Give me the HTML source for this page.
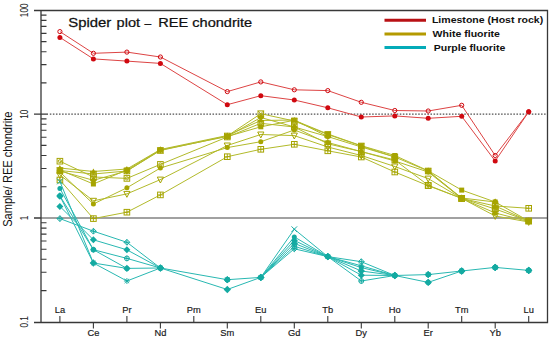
<!DOCTYPE html>
<html><head><meta charset="utf-8"><style>
html,body{margin:0;padding:0;background:#fff;}
body{width:550px;height:342px;overflow:hidden;}
svg{display:block;font-family:"Liberation Sans",sans-serif;}
</style></head><body>
<svg width="550" height="342" viewBox="0 0 550 342">
<rect width="550" height="342" fill="#fff"/>
<line x1="49.8" y1="114.1" x2="547" y2="114.1" stroke="#505050" stroke-width="1.4" stroke-dasharray="1.55 1.52"/>
<line x1="41" y1="218" x2="547" y2="218" stroke="#828282" stroke-width="1.6"/>
<g stroke="#b2ba2a" stroke-width="1" stroke-linecap="round"><line x1="59.9" y1="161.2" x2="93.4" y2="177.0"/><line x1="93.4" y1="177.0" x2="126.9" y2="178.4"/><line x1="126.9" y1="178.4" x2="160.4" y2="164.4"/><line x1="160.4" y1="164.4" x2="227.3" y2="137.0"/><line x1="227.3" y1="137.0" x2="260.8" y2="123.3"/><line x1="260.8" y1="123.3" x2="294.3" y2="127.0"/><line x1="294.3" y1="127.0" x2="327.8" y2="143.8"/><line x1="327.8" y1="143.8" x2="361.3" y2="151.6"/><line x1="361.3" y1="151.6" x2="394.8" y2="160.0"/><line x1="394.8" y1="160.0" x2="428.2" y2="185.3"/><line x1="428.2" y1="185.3" x2="461.7" y2="198.4"/><line x1="461.7" y1="198.4" x2="495.2" y2="209.0"/><line x1="495.2" y1="209.0" x2="528.7" y2="221.0"/><line x1="59.9" y1="170.0" x2="93.4" y2="184.0"/><line x1="93.4" y1="184.0" x2="126.9" y2="170.0"/><line x1="126.9" y1="170.0" x2="160.4" y2="150.0"/><line x1="160.4" y1="150.0" x2="227.3" y2="136.5"/><line x1="227.3" y1="136.5" x2="260.8" y2="126.8"/><line x1="260.8" y1="126.8" x2="294.3" y2="120.3"/><line x1="294.3" y1="120.3" x2="327.8" y2="134.0"/><line x1="327.8" y1="134.0" x2="361.3" y2="145.7"/><line x1="361.3" y1="145.7" x2="394.8" y2="155.5"/><line x1="394.8" y1="155.5" x2="428.2" y2="170.8"/><line x1="428.2" y1="170.8" x2="461.7" y2="190.1"/><line x1="461.7" y1="190.1" x2="495.2" y2="202.0"/><line x1="495.2" y1="202.0" x2="528.7" y2="221.0"/><line x1="59.9" y1="168.0" x2="93.4" y2="171.5"/><line x1="93.4" y1="171.5" x2="126.9" y2="169.0"/><line x1="126.9" y1="169.0" x2="160.4" y2="149.5"/><line x1="160.4" y1="149.5" x2="227.3" y2="135.5"/><line x1="227.3" y1="135.5" x2="260.8" y2="120.5"/><line x1="260.8" y1="120.5" x2="294.3" y2="120.0"/><line x1="294.3" y1="120.0" x2="327.8" y2="136.6"/><line x1="327.8" y1="136.6" x2="361.3" y2="147.0"/><line x1="361.3" y1="147.0" x2="394.8" y2="157.0"/><line x1="394.8" y1="157.0" x2="428.2" y2="171.0"/><line x1="428.2" y1="171.0" x2="461.7" y2="198.4"/><line x1="461.7" y1="198.4" x2="495.2" y2="206.0"/><line x1="495.2" y1="206.0" x2="528.7" y2="221.0"/><line x1="59.9" y1="172.0" x2="93.4" y2="204.0"/><line x1="93.4" y1="204.0" x2="126.9" y2="187.8"/><line x1="126.9" y1="187.8" x2="160.4" y2="168.0"/><line x1="160.4" y1="168.0" x2="227.3" y2="147.6"/><line x1="227.3" y1="147.6" x2="260.8" y2="141.7"/><line x1="260.8" y1="141.7" x2="294.3" y2="130.0"/><line x1="294.3" y1="130.0" x2="327.8" y2="142.5"/><line x1="327.8" y1="142.5" x2="361.3" y2="151.6"/><line x1="361.3" y1="151.6" x2="394.8" y2="161.0"/><line x1="394.8" y1="161.0" x2="428.2" y2="172.0"/><line x1="428.2" y1="172.0" x2="461.7" y2="198.4"/><line x1="461.7" y1="198.4" x2="495.2" y2="213.0"/><line x1="495.2" y1="213.0" x2="528.7" y2="221.5"/><line x1="59.9" y1="175.0" x2="93.4" y2="200.8"/><line x1="93.4" y1="200.8" x2="126.9" y2="193.9"/><line x1="126.9" y1="193.9" x2="160.4" y2="179.6"/><line x1="160.4" y1="179.6" x2="227.3" y2="145.5"/><line x1="227.3" y1="145.5" x2="260.8" y2="134.5"/><line x1="260.8" y1="134.5" x2="294.3" y2="135.6"/><line x1="294.3" y1="135.6" x2="327.8" y2="147.0"/><line x1="327.8" y1="147.0" x2="361.3" y2="155.5"/><line x1="361.3" y1="155.5" x2="394.8" y2="166.5"/><line x1="394.8" y1="166.5" x2="428.2" y2="178.6"/><line x1="428.2" y1="178.6" x2="461.7" y2="198.4"/><line x1="461.7" y1="198.4" x2="495.2" y2="216.0"/><line x1="495.2" y1="216.0" x2="528.7" y2="222.0"/><line x1="59.9" y1="180.0" x2="93.4" y2="218.6"/><line x1="93.4" y1="218.6" x2="126.9" y2="212.2"/><line x1="126.9" y1="212.2" x2="160.4" y2="194.9"/><line x1="160.4" y1="194.9" x2="227.3" y2="156.7"/><line x1="227.3" y1="156.7" x2="260.8" y2="149.3"/><line x1="260.8" y1="149.3" x2="294.3" y2="144.3"/><line x1="294.3" y1="144.3" x2="327.8" y2="150.8"/><line x1="327.8" y1="150.8" x2="361.3" y2="157.0"/><line x1="361.3" y1="157.0" x2="394.8" y2="172.0"/><line x1="394.8" y1="172.0" x2="428.2" y2="185.7"/><line x1="428.2" y1="185.7" x2="461.7" y2="198.4"/><line x1="495.2" y1="206.0" x2="528.7" y2="208.3"/><line x1="59.9" y1="170.5" x2="93.4" y2="174.0"/><line x1="93.4" y1="174.0" x2="126.9" y2="171.0"/><line x1="126.9" y1="171.0" x2="160.4" y2="150.5"/><line x1="160.4" y1="150.5" x2="227.3" y2="136.0"/><line x1="227.3" y1="136.0" x2="260.8" y2="113.7"/><line x1="260.8" y1="113.7" x2="294.3" y2="121.0"/><line x1="294.3" y1="121.0" x2="327.8" y2="134.5"/><line x1="327.8" y1="134.5" x2="361.3" y2="146.0"/><line x1="361.3" y1="146.0" x2="394.8" y2="157.0"/><line x1="59.9" y1="171.0" x2="93.4" y2="180.3"/><line x1="93.4" y1="180.3" x2="126.9" y2="171.0"/><line x1="126.9" y1="171.0" x2="160.4" y2="150.0"/><line x1="227.3" y1="136.5" x2="260.8" y2="117.5"/><line x1="260.8" y1="117.5" x2="294.3" y2="127.0"/><line x1="294.3" y1="127.0" x2="327.8" y2="136.6"/><line x1="428.2" y1="171.0" x2="461.7" y2="198.0"/><line x1="461.7" y1="198.0" x2="495.2" y2="202.0"/></g>
<rect x="57.1" y="158.4" width="5.6" height="5.6" fill="none" stroke="#a6a400" stroke-width="1"/><circle cx="59.9" cy="161.2" r="1.6" fill="none" stroke="#a6a400" stroke-width="0.9"/><rect x="90.6" y="174.2" width="5.6" height="5.6" fill="none" stroke="#a6a400" stroke-width="1"/><circle cx="93.4" cy="177.0" r="1.6" fill="none" stroke="#a6a400" stroke-width="0.9"/><rect x="124.1" y="175.6" width="5.6" height="5.6" fill="none" stroke="#a6a400" stroke-width="1"/><circle cx="126.9" cy="178.4" r="1.6" fill="none" stroke="#a6a400" stroke-width="0.9"/><rect x="157.6" y="161.6" width="5.6" height="5.6" fill="none" stroke="#a6a400" stroke-width="1"/><circle cx="160.4" cy="164.4" r="1.6" fill="none" stroke="#a6a400" stroke-width="0.9"/><rect x="224.5" y="134.2" width="5.6" height="5.6" fill="none" stroke="#a6a400" stroke-width="1"/><circle cx="227.3" cy="137.0" r="1.6" fill="none" stroke="#a6a400" stroke-width="0.9"/><rect x="258.0" y="120.5" width="5.6" height="5.6" fill="none" stroke="#a6a400" stroke-width="1"/><circle cx="260.8" cy="123.3" r="1.6" fill="none" stroke="#a6a400" stroke-width="0.9"/><rect x="291.5" y="124.2" width="5.6" height="5.6" fill="none" stroke="#a6a400" stroke-width="1"/><circle cx="294.3" cy="127.0" r="1.6" fill="none" stroke="#a6a400" stroke-width="0.9"/><rect x="325.0" y="141.0" width="5.6" height="5.6" fill="none" stroke="#a6a400" stroke-width="1"/><circle cx="327.8" cy="143.8" r="1.6" fill="none" stroke="#a6a400" stroke-width="0.9"/><rect x="358.5" y="148.8" width="5.6" height="5.6" fill="none" stroke="#a6a400" stroke-width="1"/><circle cx="361.3" cy="151.6" r="1.6" fill="none" stroke="#a6a400" stroke-width="0.9"/><rect x="392.0" y="157.2" width="5.6" height="5.6" fill="none" stroke="#a6a400" stroke-width="1"/><circle cx="394.8" cy="160.0" r="1.6" fill="none" stroke="#a6a400" stroke-width="0.9"/><rect x="425.4" y="182.5" width="5.6" height="5.6" fill="none" stroke="#a6a400" stroke-width="1"/><circle cx="428.2" cy="185.3" r="1.6" fill="none" stroke="#a6a400" stroke-width="0.9"/><rect x="458.9" y="195.6" width="5.6" height="5.6" fill="none" stroke="#a6a400" stroke-width="1"/><circle cx="461.7" cy="198.4" r="1.6" fill="none" stroke="#a6a400" stroke-width="0.9"/><rect x="492.4" y="206.2" width="5.6" height="5.6" fill="none" stroke="#a6a400" stroke-width="1"/><circle cx="495.2" cy="209.0" r="1.6" fill="none" stroke="#a6a400" stroke-width="0.9"/><rect x="525.9" y="218.2" width="5.6" height="5.6" fill="none" stroke="#a6a400" stroke-width="1"/><circle cx="528.7" cy="221.0" r="1.6" fill="none" stroke="#a6a400" stroke-width="0.9"/>
<rect x="57.4" y="167.5" width="5.0" height="5.0" fill="#a6a400"/><rect x="90.9" y="181.5" width="5.0" height="5.0" fill="#a6a400"/><rect x="124.4" y="167.5" width="5.0" height="5.0" fill="#a6a400"/><rect x="157.9" y="147.5" width="5.0" height="5.0" fill="#a6a400"/><rect x="224.8" y="134.0" width="5.0" height="5.0" fill="#a6a400"/><rect x="258.3" y="124.3" width="5.0" height="5.0" fill="#a6a400"/><rect x="291.8" y="117.8" width="5.0" height="5.0" fill="#a6a400"/><rect x="325.3" y="131.5" width="5.0" height="5.0" fill="#a6a400"/><rect x="358.8" y="143.2" width="5.0" height="5.0" fill="#a6a400"/><rect x="392.3" y="153.0" width="5.0" height="5.0" fill="#a6a400"/><rect x="425.7" y="168.3" width="5.0" height="5.0" fill="#a6a400"/><rect x="459.2" y="187.6" width="5.0" height="5.0" fill="#a6a400"/><rect x="492.7" y="199.5" width="5.0" height="5.0" fill="#a6a400"/><rect x="526.2" y="218.5" width="5.0" height="5.0" fill="#a6a400"/>
<path d="M59.9 165.1L62.7 169.9L57.1 169.9Z" fill="#a6a400"/><path d="M93.4 168.6L96.2 173.4L90.6 173.4Z" fill="#a6a400"/><path d="M126.9 166.1L129.7 170.9L124.1 170.9Z" fill="#a6a400"/><path d="M160.4 146.6L163.2 151.4L157.6 151.4Z" fill="#a6a400"/><path d="M227.3 132.6L230.1 137.4L224.5 137.4Z" fill="#a6a400"/><path d="M260.8 117.6L263.6 122.4L258.0 122.4Z" fill="#a6a400"/><path d="M294.3 117.1L297.1 121.9L291.5 121.9Z" fill="#a6a400"/><path d="M327.8 133.7L330.6 138.5L325.0 138.5Z" fill="#a6a400"/><path d="M361.3 144.1L364.1 148.9L358.5 148.9Z" fill="#a6a400"/><path d="M394.8 154.1L397.6 158.9L392.0 158.9Z" fill="#a6a400"/><path d="M428.2 168.1L431.0 172.9L425.4 172.9Z" fill="#a6a400"/><path d="M461.7 195.5L464.5 200.3L458.9 200.3Z" fill="#a6a400"/><path d="M495.2 203.1L498.0 207.9L492.4 207.9Z" fill="#a6a400"/><path d="M528.7 218.1L531.5 222.9L525.9 222.9Z" fill="#a6a400"/>
<circle cx="59.9" cy="172.0" r="2.5" fill="#a6a400"/><circle cx="93.4" cy="204.0" r="2.5" fill="#a6a400"/><circle cx="126.9" cy="187.8" r="2.5" fill="#a6a400"/><circle cx="160.4" cy="168.0" r="2.5" fill="#a6a400"/><circle cx="227.3" cy="147.6" r="2.5" fill="#a6a400"/><circle cx="260.8" cy="141.7" r="2.5" fill="#a6a400"/><circle cx="294.3" cy="130.0" r="2.5" fill="#a6a400"/><circle cx="327.8" cy="142.5" r="2.5" fill="#a6a400"/><circle cx="361.3" cy="151.6" r="2.5" fill="#a6a400"/><circle cx="394.8" cy="161.0" r="2.5" fill="#a6a400"/><circle cx="428.2" cy="172.0" r="2.5" fill="#a6a400"/><circle cx="461.7" cy="198.4" r="2.5" fill="#a6a400"/><circle cx="495.2" cy="213.0" r="2.5" fill="#a6a400"/><circle cx="528.7" cy="221.5" r="2.5" fill="#a6a400"/>
<path d="M56.8 172.5L63.0 172.5L59.9 178.4Z" fill="none" stroke="#a6a400" stroke-width="1"/><path d="M90.3 198.3L96.5 198.3L93.4 204.2Z" fill="none" stroke="#a6a400" stroke-width="1"/><path d="M123.8 191.4L130.0 191.4L126.9 197.3Z" fill="none" stroke="#a6a400" stroke-width="1"/><path d="M157.3 177.1L163.5 177.1L160.4 183.0Z" fill="none" stroke="#a6a400" stroke-width="1"/><path d="M224.2 143.0L230.4 143.0L227.3 148.9Z" fill="none" stroke="#a6a400" stroke-width="1"/><path d="M257.7 132.0L263.9 132.0L260.8 137.9Z" fill="none" stroke="#a6a400" stroke-width="1"/><path d="M291.2 133.1L297.4 133.1L294.3 139.0Z" fill="none" stroke="#a6a400" stroke-width="1"/><path d="M324.7 144.5L330.9 144.5L327.8 150.4Z" fill="none" stroke="#a6a400" stroke-width="1"/><path d="M358.2 153.0L364.4 153.0L361.3 158.9Z" fill="none" stroke="#a6a400" stroke-width="1"/><path d="M391.7 164.0L397.9 164.0L394.8 169.9Z" fill="none" stroke="#a6a400" stroke-width="1"/><path d="M425.1 176.1L431.3 176.1L428.2 182.0Z" fill="none" stroke="#a6a400" stroke-width="1"/><path d="M458.6 195.9L464.8 195.9L461.7 201.8Z" fill="none" stroke="#a6a400" stroke-width="1"/><path d="M492.1 213.5L498.3 213.5L495.2 219.4Z" fill="none" stroke="#a6a400" stroke-width="1"/><path d="M525.6 219.5L531.8 219.5L528.7 225.4Z" fill="none" stroke="#a6a400" stroke-width="1"/>
<rect x="57.1" y="177.2" width="5.6" height="5.6" fill="none" stroke="#a6a400" stroke-width="1"/><path d="M57.1 180.0H62.7M59.9 177.2V182.8" stroke="#a6a400" stroke-width="0.9"/><rect x="90.6" y="215.8" width="5.6" height="5.6" fill="none" stroke="#a6a400" stroke-width="1"/><path d="M90.6 218.6H96.2M93.4 215.8V221.4" stroke="#a6a400" stroke-width="0.9"/><rect x="124.1" y="209.4" width="5.6" height="5.6" fill="none" stroke="#a6a400" stroke-width="1"/><path d="M124.1 212.2H129.7M126.9 209.4V215.0" stroke="#a6a400" stroke-width="0.9"/><rect x="157.6" y="192.1" width="5.6" height="5.6" fill="none" stroke="#a6a400" stroke-width="1"/><path d="M157.6 194.9H163.2M160.4 192.1V197.7" stroke="#a6a400" stroke-width="0.9"/><rect x="224.5" y="153.9" width="5.6" height="5.6" fill="none" stroke="#a6a400" stroke-width="1"/><path d="M224.5 156.7H230.1M227.3 153.9V159.5" stroke="#a6a400" stroke-width="0.9"/><rect x="258.0" y="146.5" width="5.6" height="5.6" fill="none" stroke="#a6a400" stroke-width="1"/><path d="M258.0 149.3H263.6M260.8 146.5V152.1" stroke="#a6a400" stroke-width="0.9"/><rect x="291.5" y="141.5" width="5.6" height="5.6" fill="none" stroke="#a6a400" stroke-width="1"/><path d="M291.5 144.3H297.1M294.3 141.5V147.1" stroke="#a6a400" stroke-width="0.9"/><rect x="325.0" y="148.0" width="5.6" height="5.6" fill="none" stroke="#a6a400" stroke-width="1"/><path d="M325.0 150.8H330.6M327.8 148.0V153.6" stroke="#a6a400" stroke-width="0.9"/><rect x="358.5" y="154.2" width="5.6" height="5.6" fill="none" stroke="#a6a400" stroke-width="1"/><path d="M358.5 157.0H364.1M361.3 154.2V159.8" stroke="#a6a400" stroke-width="0.9"/><rect x="392.0" y="169.2" width="5.6" height="5.6" fill="none" stroke="#a6a400" stroke-width="1"/><path d="M392.0 172.0H397.6M394.8 169.2V174.8" stroke="#a6a400" stroke-width="0.9"/><rect x="425.4" y="182.9" width="5.6" height="5.6" fill="none" stroke="#a6a400" stroke-width="1"/><path d="M425.4 185.7H431.0M428.2 182.9V188.5" stroke="#a6a400" stroke-width="0.9"/><rect x="458.9" y="195.6" width="5.6" height="5.6" fill="none" stroke="#a6a400" stroke-width="1"/><path d="M458.9 198.4H464.5M461.7 195.6V201.2" stroke="#a6a400" stroke-width="0.9"/><rect x="492.4" y="203.2" width="5.6" height="5.6" fill="none" stroke="#a6a400" stroke-width="1"/><path d="M492.4 206.0H498.0M495.2 203.2V208.8" stroke="#a6a400" stroke-width="0.9"/><rect x="525.9" y="205.5" width="5.6" height="5.6" fill="none" stroke="#a6a400" stroke-width="1"/><path d="M525.9 208.3H531.5M528.7 205.5V211.1" stroke="#a6a400" stroke-width="0.9"/>
<rect x="57.1" y="167.7" width="5.6" height="5.6" fill="none" stroke="#a6a400" stroke-width="1"/><path d="M57.1 167.7L62.7 173.3M57.1 173.3L62.7 167.7" stroke="#a6a400" stroke-width="0.9"/><rect x="90.6" y="171.2" width="5.6" height="5.6" fill="none" stroke="#a6a400" stroke-width="1"/><path d="M90.6 171.2L96.2 176.8M90.6 176.8L96.2 171.2" stroke="#a6a400" stroke-width="0.9"/><rect x="124.1" y="168.2" width="5.6" height="5.6" fill="none" stroke="#a6a400" stroke-width="1"/><path d="M124.1 168.2L129.7 173.8M124.1 173.8L129.7 168.2" stroke="#a6a400" stroke-width="0.9"/><rect x="157.6" y="147.7" width="5.6" height="5.6" fill="none" stroke="#a6a400" stroke-width="1"/><path d="M157.6 147.7L163.2 153.3M157.6 153.3L163.2 147.7" stroke="#a6a400" stroke-width="0.9"/><rect x="224.5" y="133.2" width="5.6" height="5.6" fill="none" stroke="#a6a400" stroke-width="1"/><path d="M224.5 133.2L230.1 138.8M224.5 138.8L230.1 133.2" stroke="#a6a400" stroke-width="0.9"/><rect x="258.0" y="110.9" width="5.6" height="5.6" fill="none" stroke="#a6a400" stroke-width="1"/><path d="M258.0 110.9L263.6 116.5M258.0 116.5L263.6 110.9" stroke="#a6a400" stroke-width="0.9"/><rect x="291.5" y="118.2" width="5.6" height="5.6" fill="none" stroke="#a6a400" stroke-width="1"/><path d="M291.5 118.2L297.1 123.8M291.5 123.8L297.1 118.2" stroke="#a6a400" stroke-width="0.9"/><rect x="325.0" y="131.7" width="5.6" height="5.6" fill="none" stroke="#a6a400" stroke-width="1"/><path d="M325.0 131.7L330.6 137.3M325.0 137.3L330.6 131.7" stroke="#a6a400" stroke-width="0.9"/><rect x="358.5" y="143.2" width="5.6" height="5.6" fill="none" stroke="#a6a400" stroke-width="1"/><path d="M358.5 143.2L364.1 148.8M358.5 148.8L364.1 143.2" stroke="#a6a400" stroke-width="0.9"/><rect x="392.0" y="154.2" width="5.6" height="5.6" fill="none" stroke="#a6a400" stroke-width="1"/><path d="M392.0 154.2L397.6 159.8M392.0 159.8L397.6 154.2" stroke="#a6a400" stroke-width="0.9"/><rect x="425.4" y="168.2" width="5.6" height="5.6" fill="none" stroke="#a6a400" stroke-width="1"/><path d="M425.4 168.2L431.0 173.8M425.4 173.8L431.0 168.2" stroke="#a6a400" stroke-width="0.9"/><rect x="458.9" y="195.6" width="5.6" height="5.6" fill="none" stroke="#a6a400" stroke-width="1"/><path d="M458.9 195.6L464.5 201.2M458.9 201.2L464.5 195.6" stroke="#a6a400" stroke-width="0.9"/><rect x="492.4" y="206.2" width="5.6" height="5.6" fill="none" stroke="#a6a400" stroke-width="1"/><path d="M492.4 206.2L498.0 211.8M492.4 211.8L498.0 206.2" stroke="#a6a400" stroke-width="0.9"/><rect x="525.9" y="218.2" width="5.6" height="5.6" fill="none" stroke="#a6a400" stroke-width="1"/><path d="M525.9 218.2L531.5 223.8M525.9 223.8L531.5 218.2" stroke="#a6a400" stroke-width="0.9"/>
<path d="M59.9 167.5L63.4 171.0L59.9 174.5L56.4 171.0Z" fill="#a6a400"/><path d="M93.4 176.8L96.9 180.3L93.4 183.8L89.9 180.3Z" fill="#a6a400"/><path d="M126.9 167.5L130.4 171.0L126.9 174.5L123.4 171.0Z" fill="#a6a400"/><path d="M160.4 146.5L163.9 150.0L160.4 153.5L156.9 150.0Z" fill="#a6a400"/><path d="M227.3 133.0L230.8 136.5L227.3 140.0L223.8 136.5Z" fill="#a6a400"/><path d="M260.8 114.0L264.3 117.5L260.8 121.0L257.3 117.5Z" fill="#a6a400"/><path d="M294.3 123.5L297.8 127.0L294.3 130.5L290.8 127.0Z" fill="#a6a400"/><path d="M327.8 133.1L331.3 136.6L327.8 140.1L324.3 136.6Z" fill="#a6a400"/><path d="M361.3 143.5L364.8 147.0L361.3 150.5L357.8 147.0Z" fill="#a6a400"/><path d="M394.8 153.5L398.3 157.0L394.8 160.5L391.3 157.0Z" fill="#a6a400"/><path d="M428.2 167.5L431.7 171.0L428.2 174.5L424.7 171.0Z" fill="#a6a400"/><path d="M461.7 194.5L465.2 198.0L461.7 201.5L458.2 198.0Z" fill="#a6a400"/><path d="M495.2 198.5L498.7 202.0L495.2 205.5L491.7 202.0Z" fill="#a6a400"/><path d="M528.7 217.5L532.2 221.0L528.7 224.5L525.2 221.0Z" fill="#a6a400"/>
<g stroke="#28b8b2" stroke-width="1" stroke-linecap="round"><line x1="59.9" y1="218.6" x2="93.4" y2="231.2"/><line x1="93.4" y1="231.2" x2="126.9" y2="242.3"/><line x1="126.9" y1="242.3" x2="160.4" y2="268.0"/><line x1="160.4" y1="268.0" x2="227.3" y2="279.7"/><line x1="227.3" y1="279.7" x2="260.8" y2="277.4"/><line x1="260.8" y1="277.4" x2="294.3" y2="248.8"/><line x1="294.3" y1="248.8" x2="327.8" y2="256.6"/><line x1="327.8" y1="256.6" x2="361.3" y2="261.7"/><line x1="361.3" y1="261.7" x2="394.8" y2="275.5"/><line x1="394.8" y1="275.5" x2="428.2" y2="274.6"/><line x1="428.2" y1="274.6" x2="461.7" y2="271.0"/><line x1="461.7" y1="271.0" x2="495.2" y2="267.4"/><line x1="495.2" y1="267.4" x2="528.7" y2="270.4"/><line x1="59.9" y1="206.4" x2="93.4" y2="239.8"/><line x1="93.4" y1="239.8" x2="126.9" y2="249.8"/><line x1="126.9" y1="249.8" x2="160.4" y2="268.0"/><line x1="260.8" y1="277.4" x2="294.3" y2="240.4"/><line x1="294.3" y1="240.4" x2="327.8" y2="256.6"/><line x1="327.8" y1="256.6" x2="361.3" y2="275.2"/><line x1="361.3" y1="275.2" x2="394.8" y2="275.5"/><line x1="59.9" y1="196.0" x2="93.4" y2="249.7"/><line x1="93.4" y1="249.7" x2="126.9" y2="258.4"/><line x1="126.9" y1="258.4" x2="160.4" y2="268.0"/><line x1="260.8" y1="277.4" x2="294.3" y2="246.3"/><line x1="294.3" y1="246.3" x2="327.8" y2="256.6"/><line x1="327.8" y1="256.6" x2="361.3" y2="281.0"/><line x1="361.3" y1="281.0" x2="394.8" y2="275.5"/><line x1="394.8" y1="275.5" x2="428.2" y2="282.4"/><line x1="428.2" y1="282.4" x2="461.7" y2="271.0"/><line x1="59.9" y1="196.0" x2="93.4" y2="263.0"/><line x1="93.4" y1="263.0" x2="126.9" y2="268.4"/><line x1="126.9" y1="268.4" x2="160.4" y2="268.0"/><line x1="160.4" y1="268.0" x2="227.3" y2="289.5"/><line x1="227.3" y1="289.5" x2="260.8" y2="277.4"/><line x1="260.8" y1="277.4" x2="294.3" y2="243.4"/><line x1="294.3" y1="243.4" x2="327.8" y2="256.6"/><line x1="327.8" y1="256.6" x2="361.3" y2="271.0"/><line x1="361.3" y1="271.0" x2="394.8" y2="275.5"/><line x1="59.9" y1="188.4" x2="93.4" y2="249.7"/><line x1="93.4" y1="249.7" x2="126.9" y2="268.4"/><line x1="260.8" y1="277.4" x2="294.3" y2="236.9"/><line x1="294.3" y1="236.9" x2="327.8" y2="256.6"/><line x1="327.8" y1="256.6" x2="361.3" y2="267.6"/><line x1="361.3" y1="267.6" x2="394.8" y2="275.5"/><line x1="59.9" y1="181.5" x2="93.4" y2="263.0"/><line x1="93.4" y1="263.0" x2="126.9" y2="281.0"/><line x1="126.9" y1="281.0" x2="160.4" y2="268.0"/><line x1="260.8" y1="277.4" x2="294.3" y2="229.2"/><line x1="294.3" y1="229.2" x2="327.8" y2="256.6"/><line x1="327.8" y1="256.6" x2="361.3" y2="265.8"/><line x1="361.3" y1="265.8" x2="394.8" y2="275.5"/></g>
<path d="M59.9 215.7L62.8 218.6L59.9 221.5L57.0 218.6Z" fill="none" stroke="#14aaa2" stroke-width="1"/><path d="M57.0 218.6H62.8M59.9 215.7V221.5" stroke="#14aaa2" stroke-width="0.9"/><path d="M93.4 228.3L96.3 231.2L93.4 234.1L90.5 231.2Z" fill="none" stroke="#14aaa2" stroke-width="1"/><path d="M90.5 231.2H96.3M93.4 228.3V234.1" stroke="#14aaa2" stroke-width="0.9"/><path d="M126.9 239.4L129.8 242.3L126.9 245.2L124.0 242.3Z" fill="none" stroke="#14aaa2" stroke-width="1"/><path d="M124.0 242.3H129.8M126.9 239.4V245.2" stroke="#14aaa2" stroke-width="0.9"/><path d="M160.4 265.1L163.3 268.0L160.4 270.9L157.5 268.0Z" fill="none" stroke="#14aaa2" stroke-width="1"/><path d="M157.5 268.0H163.3M160.4 265.1V270.9" stroke="#14aaa2" stroke-width="0.9"/><path d="M227.3 276.8L230.2 279.7L227.3 282.6L224.4 279.7Z" fill="none" stroke="#14aaa2" stroke-width="1"/><path d="M224.4 279.7H230.2M227.3 276.8V282.6" stroke="#14aaa2" stroke-width="0.9"/><path d="M260.8 274.5L263.7 277.4L260.8 280.3L257.9 277.4Z" fill="none" stroke="#14aaa2" stroke-width="1"/><path d="M257.9 277.4H263.7M260.8 274.5V280.3" stroke="#14aaa2" stroke-width="0.9"/><path d="M294.3 245.9L297.2 248.8L294.3 251.7L291.4 248.8Z" fill="none" stroke="#14aaa2" stroke-width="1"/><path d="M291.4 248.8H297.2M294.3 245.9V251.7" stroke="#14aaa2" stroke-width="0.9"/><path d="M327.8 253.7L330.7 256.6L327.8 259.5L324.9 256.6Z" fill="none" stroke="#14aaa2" stroke-width="1"/><path d="M324.9 256.6H330.7M327.8 253.7V259.5" stroke="#14aaa2" stroke-width="0.9"/><path d="M361.3 258.8L364.2 261.7L361.3 264.6L358.4 261.7Z" fill="none" stroke="#14aaa2" stroke-width="1"/><path d="M358.4 261.7H364.2M361.3 258.8V264.6" stroke="#14aaa2" stroke-width="0.9"/><path d="M394.8 272.6L397.7 275.5L394.8 278.4L391.9 275.5Z" fill="none" stroke="#14aaa2" stroke-width="1"/><path d="M391.9 275.5H397.7M394.8 272.6V278.4" stroke="#14aaa2" stroke-width="0.9"/><path d="M428.2 271.7L431.1 274.6L428.2 277.5L425.3 274.6Z" fill="none" stroke="#14aaa2" stroke-width="1"/><path d="M425.3 274.6H431.1M428.2 271.7V277.5" stroke="#14aaa2" stroke-width="0.9"/><path d="M461.7 268.1L464.6 271.0L461.7 273.9L458.8 271.0Z" fill="none" stroke="#14aaa2" stroke-width="1"/><path d="M458.8 271.0H464.6M461.7 268.1V273.9" stroke="#14aaa2" stroke-width="0.9"/><path d="M495.2 264.5L498.1 267.4L495.2 270.3L492.3 267.4Z" fill="none" stroke="#14aaa2" stroke-width="1"/><path d="M492.3 267.4H498.1M495.2 264.5V270.3" stroke="#14aaa2" stroke-width="0.9"/><path d="M528.7 267.5L531.6 270.4L528.7 273.3L525.8 270.4Z" fill="none" stroke="#14aaa2" stroke-width="1"/><path d="M525.8 270.4H531.6M528.7 267.5V273.3" stroke="#14aaa2" stroke-width="0.9"/>
<path d="M59.9 202.9L63.4 206.4L59.9 209.9L56.4 206.4Z" fill="#14aaa2"/><path d="M93.4 236.3L96.9 239.8L93.4 243.3L89.9 239.8Z" fill="#14aaa2"/><path d="M126.9 246.3L130.4 249.8L126.9 253.3L123.4 249.8Z" fill="#14aaa2"/><path d="M160.4 264.5L163.9 268.0L160.4 271.5L156.9 268.0Z" fill="#14aaa2"/><path d="M227.3 276.2L230.8 279.7L227.3 283.2L223.8 279.7Z" fill="#14aaa2"/><path d="M260.8 273.9L264.3 277.4L260.8 280.9L257.3 277.4Z" fill="#14aaa2"/><path d="M294.3 236.9L297.8 240.4L294.3 243.9L290.8 240.4Z" fill="#14aaa2"/><path d="M327.8 253.1L331.3 256.6L327.8 260.1L324.3 256.6Z" fill="#14aaa2"/><path d="M361.3 271.7L364.8 275.2L361.3 278.7L357.8 275.2Z" fill="#14aaa2"/><path d="M394.8 272.0L398.3 275.5L394.8 279.0L391.3 275.5Z" fill="#14aaa2"/><path d="M428.2 271.1L431.7 274.6L428.2 278.1L424.7 274.6Z" fill="#14aaa2"/><path d="M461.7 267.5L465.2 271.0L461.7 274.5L458.2 271.0Z" fill="#14aaa2"/><path d="M495.2 263.9L498.7 267.4L495.2 270.9L491.7 267.4Z" fill="#14aaa2"/><path d="M528.7 266.9L532.2 270.4L528.7 273.9L525.2 270.4Z" fill="#14aaa2"/>
<circle cx="59.9" cy="196.0" r="2.4" fill="none" stroke="#14aaa2" stroke-width="1"/><path d="M57.1 196.0H62.7M59.9 193.2V198.8" stroke="#14aaa2" stroke-width="0.9"/><circle cx="93.4" cy="249.7" r="2.4" fill="none" stroke="#14aaa2" stroke-width="1"/><path d="M90.6 249.7H96.2M93.4 246.9V252.5" stroke="#14aaa2" stroke-width="0.9"/><circle cx="126.9" cy="258.4" r="2.4" fill="none" stroke="#14aaa2" stroke-width="1"/><path d="M124.1 258.4H129.7M126.9 255.6V261.2" stroke="#14aaa2" stroke-width="0.9"/><circle cx="160.4" cy="268.0" r="2.4" fill="none" stroke="#14aaa2" stroke-width="1"/><path d="M157.6 268.0H163.2M160.4 265.2V270.8" stroke="#14aaa2" stroke-width="0.9"/><circle cx="227.3" cy="279.7" r="2.4" fill="none" stroke="#14aaa2" stroke-width="1"/><path d="M224.5 279.7H230.1M227.3 276.9V282.5" stroke="#14aaa2" stroke-width="0.9"/><circle cx="260.8" cy="277.4" r="2.4" fill="none" stroke="#14aaa2" stroke-width="1"/><path d="M258.0 277.4H263.6M260.8 274.6V280.2" stroke="#14aaa2" stroke-width="0.9"/><circle cx="294.3" cy="246.3" r="2.4" fill="none" stroke="#14aaa2" stroke-width="1"/><path d="M291.5 246.3H297.1M294.3 243.5V249.1" stroke="#14aaa2" stroke-width="0.9"/><circle cx="327.8" cy="256.6" r="2.4" fill="none" stroke="#14aaa2" stroke-width="1"/><path d="M325.0 256.6H330.6M327.8 253.8V259.4" stroke="#14aaa2" stroke-width="0.9"/><circle cx="361.3" cy="281.0" r="2.4" fill="none" stroke="#14aaa2" stroke-width="1"/><path d="M358.5 281.0H364.1M361.3 278.2V283.8" stroke="#14aaa2" stroke-width="0.9"/><circle cx="394.8" cy="275.5" r="2.4" fill="none" stroke="#14aaa2" stroke-width="1"/><path d="M392.0 275.5H397.6M394.8 272.7V278.3" stroke="#14aaa2" stroke-width="0.9"/><circle cx="428.2" cy="282.4" r="2.4" fill="none" stroke="#14aaa2" stroke-width="1"/><path d="M425.4 282.4H431.0M428.2 279.6V285.2" stroke="#14aaa2" stroke-width="0.9"/><circle cx="461.7" cy="271.0" r="2.4" fill="none" stroke="#14aaa2" stroke-width="1"/><path d="M458.9 271.0H464.5M461.7 268.2V273.8" stroke="#14aaa2" stroke-width="0.9"/><circle cx="495.2" cy="267.4" r="2.4" fill="none" stroke="#14aaa2" stroke-width="1"/><path d="M492.4 267.4H498.0M495.2 264.6V270.2" stroke="#14aaa2" stroke-width="0.9"/><circle cx="528.7" cy="270.4" r="2.4" fill="none" stroke="#14aaa2" stroke-width="1"/><path d="M525.9 270.4H531.5M528.7 267.6V273.2" stroke="#14aaa2" stroke-width="0.9"/>
<path d="M59.9 192.3L63.6 196.0L59.9 199.7L56.2 196.0Z" fill="#14aaa2"/><path d="M93.4 259.3L97.1 263.0L93.4 266.7L89.7 263.0Z" fill="#14aaa2"/><path d="M126.9 264.7L130.6 268.4L126.9 272.1L123.2 268.4Z" fill="#14aaa2"/><path d="M160.4 264.3L164.1 268.0L160.4 271.7L156.7 268.0Z" fill="#14aaa2"/><path d="M227.3 285.8L231.0 289.5L227.3 293.2L223.6 289.5Z" fill="#14aaa2"/><path d="M260.8 273.7L264.5 277.4L260.8 281.1L257.1 277.4Z" fill="#14aaa2"/><path d="M294.3 239.7L298.0 243.4L294.3 247.1L290.6 243.4Z" fill="#14aaa2"/><path d="M327.8 252.9L331.5 256.6L327.8 260.3L324.1 256.6Z" fill="#14aaa2"/><path d="M361.3 267.3L365.0 271.0L361.3 274.7L357.6 271.0Z" fill="#14aaa2"/><path d="M394.8 271.8L398.5 275.5L394.8 279.2L391.1 275.5Z" fill="#14aaa2"/><path d="M428.2 278.7L431.9 282.4L428.2 286.1L424.5 282.4Z" fill="#14aaa2"/><path d="M461.7 267.3L465.4 271.0L461.7 274.7L458.0 271.0Z" fill="#14aaa2"/><path d="M495.2 263.7L498.9 267.4L495.2 271.1L491.5 267.4Z" fill="#14aaa2"/><path d="M528.7 266.7L532.4 270.4L528.7 274.1L525.0 270.4Z" fill="#14aaa2"/>
<circle cx="59.9" cy="188.4" r="2.5" fill="#14aaa2"/><circle cx="93.4" cy="249.7" r="2.5" fill="#14aaa2"/><circle cx="126.9" cy="268.4" r="2.5" fill="#14aaa2"/><circle cx="160.4" cy="268.0" r="2.5" fill="#14aaa2"/><circle cx="227.3" cy="279.7" r="2.5" fill="#14aaa2"/><circle cx="260.8" cy="277.4" r="2.5" fill="#14aaa2"/><circle cx="294.3" cy="236.9" r="2.5" fill="#14aaa2"/><circle cx="327.8" cy="256.6" r="2.5" fill="#14aaa2"/><circle cx="361.3" cy="267.6" r="2.5" fill="#14aaa2"/><circle cx="394.8" cy="275.5" r="2.5" fill="#14aaa2"/><circle cx="428.2" cy="274.6" r="2.5" fill="#14aaa2"/><circle cx="461.7" cy="271.0" r="2.5" fill="#14aaa2"/><circle cx="495.2" cy="267.4" r="2.5" fill="#14aaa2"/><circle cx="528.7" cy="270.4" r="2.5" fill="#14aaa2"/>
<path d="M57.1 178.7L62.7 184.3M57.1 184.3L62.7 178.7" stroke="#14aaa2" stroke-width="1"/><path d="M91.1 260.8L95.6 265.2M91.1 265.2L95.6 260.8M90.4 263.0H96.4M93.4 260.0V266.0" stroke="#14aaa2" stroke-width="0.9"/><path d="M124.6 278.8L129.1 283.2M124.6 283.2L129.1 278.8M123.9 281.0H129.9M126.9 278.0V284.0" stroke="#14aaa2" stroke-width="0.9"/><path d="M158.1 265.8L162.6 270.2M158.1 270.2L162.6 265.8M157.4 268.0H163.4M160.4 265.0V271.0" stroke="#14aaa2" stroke-width="0.9"/><path d="M225.1 277.4L229.6 281.9M225.1 281.9L229.6 277.4M224.3 279.7H230.3M227.3 276.7V282.7" stroke="#14aaa2" stroke-width="0.9"/><path d="M258.6 275.1L263.1 279.6M258.6 279.6L263.1 275.1M257.8 277.4H263.8M260.8 274.4V280.4" stroke="#14aaa2" stroke-width="0.9"/><path d="M291.5 226.4L297.1 232.0M291.5 232.0L297.1 226.4" stroke="#14aaa2" stroke-width="1"/><path d="M325.5 254.4L330.0 258.9M325.5 258.9L330.0 254.4M324.8 256.6H330.8M327.8 253.6V259.6" stroke="#14aaa2" stroke-width="0.9"/><path d="M359.0 263.6L363.5 268.1M359.0 268.1L363.5 263.6M358.3 265.8H364.3M361.3 262.8V268.8" stroke="#14aaa2" stroke-width="0.9"/><path d="M392.5 273.2L397.0 277.8M392.5 277.8L397.0 273.2M391.8 275.5H397.8M394.8 272.5V278.5" stroke="#14aaa2" stroke-width="0.9"/><path d="M426.0 272.4L430.5 276.9M426.0 276.9L430.5 272.4M425.2 274.6H431.2M428.2 271.6V277.6" stroke="#14aaa2" stroke-width="0.9"/><path d="M459.5 268.8L464.0 273.2M459.5 273.2L464.0 268.8M458.7 271.0H464.7M461.7 268.0V274.0" stroke="#14aaa2" stroke-width="0.9"/><path d="M493.0 265.1L497.5 269.6M493.0 269.6L497.5 265.1M492.2 267.4H498.2M495.2 264.4V270.4" stroke="#14aaa2" stroke-width="0.9"/><path d="M526.5 268.1L531.0 272.6M526.5 272.6L531.0 268.1M525.7 270.4H531.7M528.7 267.4V273.4" stroke="#14aaa2" stroke-width="0.9"/>
<polyline points="59.9,31.6 93.4,53.3 126.9,52.1 160.4,57.0 227.3,91.6 260.8,81.9 294.3,89.8 327.8,90.6 361.3,102.3 394.8,110.5 428.2,111.0 461.7,105.3 495.2,155.5 528.7,111.8" fill="none" stroke="#dd4444" stroke-width="1"/>
<polyline points="59.9,37.4 93.4,58.9 126.9,61.1 160.4,63.4 227.3,104.7 260.8,95.7 294.3,100.0 327.8,107.8 361.3,117.0 394.8,115.9 428.2,118.3 461.7,116.3 495.2,161.0 528.7,111.8" fill="none" stroke="#dd4444" stroke-width="1"/>
<circle cx="59.9" cy="31.6" r="2.1" fill="none" stroke="#d0080f" stroke-width="1"/><circle cx="93.4" cy="53.3" r="2.1" fill="none" stroke="#d0080f" stroke-width="1"/><circle cx="126.9" cy="52.1" r="2.1" fill="none" stroke="#d0080f" stroke-width="1"/><circle cx="160.4" cy="57.0" r="2.1" fill="none" stroke="#d0080f" stroke-width="1"/><circle cx="227.3" cy="91.6" r="2.1" fill="none" stroke="#d0080f" stroke-width="1"/><circle cx="260.8" cy="81.9" r="2.1" fill="none" stroke="#d0080f" stroke-width="1"/><circle cx="294.3" cy="89.8" r="2.1" fill="none" stroke="#d0080f" stroke-width="1"/><circle cx="327.8" cy="90.6" r="2.1" fill="none" stroke="#d0080f" stroke-width="1"/><circle cx="361.3" cy="102.3" r="2.1" fill="none" stroke="#d0080f" stroke-width="1"/><circle cx="394.8" cy="110.5" r="2.1" fill="none" stroke="#d0080f" stroke-width="1"/><circle cx="428.2" cy="111.0" r="2.1" fill="none" stroke="#d0080f" stroke-width="1"/><circle cx="461.7" cy="105.3" r="2.1" fill="none" stroke="#d0080f" stroke-width="1"/><circle cx="495.2" cy="155.5" r="2.1" fill="none" stroke="#d0080f" stroke-width="1"/><circle cx="528.7" cy="111.8" r="2.1" fill="none" stroke="#d0080f" stroke-width="1"/>
<circle cx="59.9" cy="37.4" r="2.5" fill="#d0080f"/><circle cx="93.4" cy="58.9" r="2.5" fill="#d0080f"/><circle cx="126.9" cy="61.1" r="2.5" fill="#d0080f"/><circle cx="160.4" cy="63.4" r="2.5" fill="#d0080f"/><circle cx="227.3" cy="104.7" r="2.5" fill="#d0080f"/><circle cx="260.8" cy="95.7" r="2.5" fill="#d0080f"/><circle cx="294.3" cy="100.0" r="2.5" fill="#d0080f"/><circle cx="327.8" cy="107.8" r="2.5" fill="#d0080f"/><circle cx="361.3" cy="117.0" r="2.5" fill="#d0080f"/><circle cx="394.8" cy="115.9" r="2.5" fill="#d0080f"/><circle cx="428.2" cy="118.3" r="2.5" fill="#d0080f"/><circle cx="461.7" cy="116.3" r="2.5" fill="#d0080f"/><circle cx="495.2" cy="161.0" r="2.5" fill="#d0080f"/><circle cx="528.7" cy="111.8" r="2.5" fill="#d0080f"/>
<path d="M34 10.5H547.5V322.5H34M41 10.5V322.5M34 114.1H48M34 218H41" fill="none" stroke="#383838" stroke-width="1.3"/>
<path d="M41 290.6H46.5M41 272.3H46.5M41 259.3H46.5M41 249.3H46.5M41 241.0H46.5M41 234.1H46.5M41 228.1H46.5M41 222.8H46.5M41 186.7H46.5M41 168.5H46.5M41 155.5H46.5M41 145.4H46.5M41 137.2H46.5M41 130.3H46.5M41 124.2H46.5M41 118.9H46.5M41 82.9H46.5M41 64.6H46.5M41 51.7H46.5M41 41.6H46.5M41 33.4H46.5M41 26.4H46.5M41 20.4H46.5M41 15.1H46.5" stroke="#383838" stroke-width="1.1"/>
<text transform="translate(28.2,10.3) rotate(-90) scale(1,1.32)" text-anchor="middle" font-size="8.2" fill="#222">100</text>
<text transform="translate(28.2,114.2) rotate(-90) scale(1,1.32)" text-anchor="middle" font-size="8.2" fill="#222">10</text>
<text transform="translate(28.2,218.0) rotate(-90) scale(1,1.32)" text-anchor="middle" font-size="8.2" fill="#222">1</text>
<text transform="translate(28.2,321.8) rotate(-90) scale(1,1.32)" text-anchor="middle" font-size="8.2" fill="#222">0.1</text>
<text x="59.9" y="313" text-anchor="middle" font-size="9.3" fill="#1a1a1a" stroke="#1a1a1a" stroke-width="0.18">La</text>
<text x="93.4" y="336" text-anchor="middle" font-size="9.3" fill="#1a1a1a" stroke="#1a1a1a" stroke-width="0.18">Ce</text>
<text x="126.9" y="313" text-anchor="middle" font-size="9.3" fill="#1a1a1a" stroke="#1a1a1a" stroke-width="0.18">Pr</text>
<text x="160.4" y="336" text-anchor="middle" font-size="9.3" fill="#1a1a1a" stroke="#1a1a1a" stroke-width="0.18">Nd</text>
<text x="193.8" y="313" text-anchor="middle" font-size="9.3" fill="#1a1a1a" stroke="#1a1a1a" stroke-width="0.18">Pm</text>
<text x="227.3" y="336" text-anchor="middle" font-size="9.3" fill="#1a1a1a" stroke="#1a1a1a" stroke-width="0.18">Sm</text>
<text x="260.8" y="313" text-anchor="middle" font-size="9.3" fill="#1a1a1a" stroke="#1a1a1a" stroke-width="0.18">Eu</text>
<text x="294.3" y="336" text-anchor="middle" font-size="9.3" fill="#1a1a1a" stroke="#1a1a1a" stroke-width="0.18">Gd</text>
<text x="327.8" y="313" text-anchor="middle" font-size="9.3" fill="#1a1a1a" stroke="#1a1a1a" stroke-width="0.18">Tb</text>
<text x="361.3" y="336" text-anchor="middle" font-size="9.3" fill="#1a1a1a" stroke="#1a1a1a" stroke-width="0.18">Dy</text>
<text x="394.8" y="313" text-anchor="middle" font-size="9.3" fill="#1a1a1a" stroke="#1a1a1a" stroke-width="0.18">Ho</text>
<text x="428.2" y="336" text-anchor="middle" font-size="9.3" fill="#1a1a1a" stroke="#1a1a1a" stroke-width="0.18">Er</text>
<text x="461.7" y="313" text-anchor="middle" font-size="9.3" fill="#1a1a1a" stroke="#1a1a1a" stroke-width="0.18">Tm</text>
<text x="495.2" y="336" text-anchor="middle" font-size="9.3" fill="#1a1a1a" stroke="#1a1a1a" stroke-width="0.18">Yb</text>
<text x="528.7" y="313" text-anchor="middle" font-size="9.3" fill="#1a1a1a" stroke="#1a1a1a" stroke-width="0.18">Lu</text>
<path d="M59.9 322V316M93.4 322V328.5M126.9 322V316M160.4 322V328.5M193.8 322V316M227.3 322V328.5M260.8 322V316M294.3 322V328.5M327.8 322V316M361.3 322V328.5M394.8 322V316M428.2 322V328.5M461.7 322V316M495.2 322V328.5M528.7 322V316" stroke="#383838" stroke-width="1.1"/>
<text transform="translate(12.1,169.2) rotate(-90) scale(1,1.08)" text-anchor="middle" font-size="11.1" fill="#111">Sample/ REE chondrite</text>
<g fill="#111" stroke="#111" stroke-width="0.25" font-size="13">
<text transform="translate(68.3,27.2) scale(1.145,1)">Spider</text>
<text transform="translate(116.6,27.2) scale(1.12,1)">plot</text>
<text transform="translate(144.5,27.6) scale(0.93,1)">–</text>
<text transform="translate(158.3,27.2) scale(1.12,1)">REE chondrite</text>
</g>
<line x1="384.5" y1="20.2" x2="426" y2="20.2" stroke="#b81014" stroke-width="3"/>
<text transform="translate(431.9,23.2) scale(1.2,1)" font-size="8.8" font-weight="bold" fill="#111">Limestone (Host rock)</text>
<line x1="384.5" y1="33.9" x2="426" y2="33.9" stroke="#b49a00" stroke-width="3"/>
<text transform="translate(432.6,36.9) scale(1.2,1)" font-size="8.8" font-weight="bold" fill="#111">White fluorite</text>
<line x1="384.5" y1="47.6" x2="426" y2="47.6" stroke="#04abb8" stroke-width="3"/>
<text transform="translate(433.8,50.6) scale(1.2,1)" font-size="8.8" font-weight="bold" fill="#111">Purple fluorite</text>
</svg>
</body></html>
